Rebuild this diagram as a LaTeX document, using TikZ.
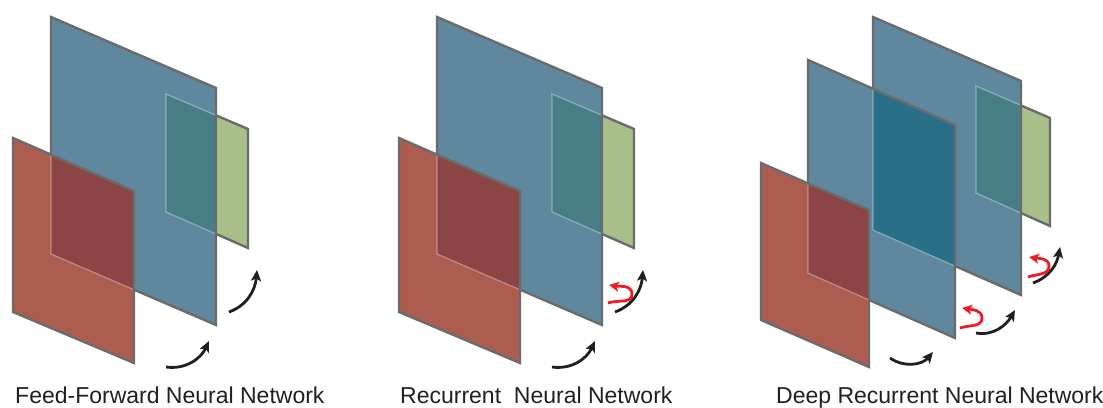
\documentclass[tikz,border=0pt]{standalone}
\usepackage{fontspec}
\setmainfont{Liberation Sans}
\usetikzlibrary{arrows.meta}
\definecolor{pblue}{HTML}{5F889F}
\definecolor{pred}{HTML}{AD5D50}
\definecolor{pgreen}{HTML}{A8BF8A}
\definecolor{rbov}{HTML}{8B4545}
\definecolor{bgov}{HTML}{477D85}
\definecolor{bbov}{HTML}{2A6F88}
\definecolor{edgegray}{HTML}{6B6B6B}
\definecolor{hookred}{HTML}{EE1C25}
\definecolor{ink}{HTML}{231F20}
\newcommand{\pl}[1]{(#1tl) -- (#1tr) -- (#1br) -- (#1bl) -- cycle}
\tikzset{
  planeedge/.style={draw=edgegray, line width=2.4pt, line join=miter},
  hiddenedge/.style={draw=white, draw opacity=0.35, line width=1.2pt},
  flow/.style={draw=ink, line width=2.8pt, -{Stealth[length=11pt,width=10pt,inset=2.5pt]}},
  recur/.style={draw=hookred, line width=2.8pt, -{Stealth[length=10pt,width=10pt,inset=2.5pt]}},
  caption/.style={font=\fontsize{23}{26}\selectfont, anchor=base west, inner sep=0pt, text=ink}
}
\begin{document}
\begin{tikzpicture}[x=1pt,y=1pt]
\useasboundingbox (0,0) rectangle (1103,407);
% ---------- panel coordinates ----------
% panel 1
\coordinate (b1tl) at (51,390);  \coordinate (b1tr) at (216,319); \coordinate (b1br) at (216,82);  \coordinate (b1bl) at (51,153);
\coordinate (r1tl) at (13,269);  \coordinate (r1tr) at (134,216); \coordinate (r1br) at (134,44);  \coordinate (r1bl) at (13,95);
\coordinate (g1tl) at (166,313); \coordinate (g1tr) at (248,278); \coordinate (g1br) at (248,159); \coordinate (g1bl) at (166,195);
% panel 2
\coordinate (b2tl) at (437,390); \coordinate (b2tr) at (602,319); \coordinate (b2br) at (602,82);  \coordinate (b2bl) at (437,153);
\coordinate (r2tl) at (399,269); \coordinate (r2tr) at (520,216); \coordinate (r2br) at (520,44);  \coordinate (r2bl) at (399,95);
\coordinate (g2tl) at (552,313); \coordinate (g2tr) at (634,278); \coordinate (g2br) at (634,159); \coordinate (g2bl) at (552,195);
% panel 3
\coordinate (bbtl) at (873,390); \coordinate (bbtr) at (1021,326); \coordinate (bbbr) at (1021,112); \coordinate (bbbl) at (873,177);
\coordinate (fbtl) at (808,347); \coordinate (fbtr) at (955,282);  \coordinate (fbbr) at (955,69);   \coordinate (fbbl) at (808,134);
\coordinate (r3tl) at (761,244); \coordinate (r3tr) at (869,197);  \coordinate (r3br) at (869,40);   \coordinate (r3bl) at (761,87);
\coordinate (g3tl) at (976,321); \coordinate (g3tr) at (1050,289); \coordinate (g3br) at (1050,181); \coordinate (g3bl) at (976,214);

% ---------- panel 1 planes ----------
\fill[pgreen] \pl{g1}; \draw[planeedge] \pl{g1};
\fill[pblue] \pl{b1};
\begin{scope} \clip \pl{b1}; \fill[bgov] \pl{g1}; \draw[hiddenedge] \pl{g1}; \end{scope}
\draw[planeedge] \pl{b1};
\fill[pred] \pl{r1};
\begin{scope} \clip \pl{r1}; \fill[rbov] \pl{b1}; \draw[hiddenedge] \pl{b1}; \end{scope}
\draw[planeedge] \pl{r1};

% ---------- panel 2 planes ----------
\fill[pgreen] \pl{g2}; \draw[planeedge] \pl{g2};
\fill[pblue] \pl{b2};
\begin{scope} \clip \pl{b2}; \fill[bgov] \pl{g2}; \draw[hiddenedge] \pl{g2}; \end{scope}
\draw[planeedge] \pl{b2};
\fill[pred] \pl{r2};
\begin{scope} \clip \pl{r2}; \fill[rbov] \pl{b2}; \draw[hiddenedge] \pl{b2}; \end{scope}
\draw[planeedge] \pl{r2};

% ---------- panel 3 planes ----------
\fill[pgreen] \pl{g3}; \draw[planeedge] \pl{g3};
\fill[pblue] \pl{bb};
\begin{scope} \clip \pl{bb}; \fill[bgov] \pl{g3}; \draw[hiddenedge] \pl{g3}; \end{scope}
\draw[planeedge] \pl{bb};
\fill[pblue] \pl{fb};
\begin{scope} \clip \pl{fb}; \fill[bbov] \pl{bb}; \draw[hiddenedge] \pl{bb}; \end{scope}
\draw[planeedge] \pl{fb};
\fill[pred] \pl{r3};
\begin{scope} \clip \pl{r3}; \fill[rbov] \pl{fb}; \draw[hiddenedge] \pl{fb}; \end{scope}
\draw[planeedge] \pl{r3};

% ---------- arrows ----------
% panel 1
\coordinate (p1a) at (166,40);  \coordinate (p1b) at (209,66);
\coordinate (p1c) at (229,95);  \coordinate (p1d) at (257,137);
\draw[flow] (p1a) to[out=-8,in=-115] (p1b);
\draw[flow] (p1c) to[out=20,in=-95] (p1d);
% panel 2
\coordinate (p2a) at (552,40);  \coordinate (p2b) at (595,66);
\coordinate (p2c) at (615,95);  \coordinate (p2d) at (643,137);
\coordinate (h2s) at (608,104); \coordinate (h2m) at (632,113); \coordinate (h2e) at (609,122);
\draw[flow] (p2a) to[out=-8,in=-115] (p2b);
\draw[flow] (p2c) to[out=20,in=-95] (p2d);
\draw[recur] (h2s) to[out=20,in=-90] (h2m) to[out=90,in=-10] (h2e);
% panel 3
\coordinate (p3a) at (890,49);  \coordinate (p3b) at (933,55);
\coordinate (p3c) at (976,74);  \coordinate (p3d) at (1015,97);
\coordinate (p3e) at (1033,124); \coordinate (p3f) at (1060,160);
\coordinate (h3s) at (960,79);  \coordinate (h3m) at (982,89);  \coordinate (h3e) at (962,99);
\coordinate (h4s) at (1028,130); \coordinate (h4m) at (1049,141); \coordinate (h4e) at (1029,150);
\draw[flow] (p3a) to[out=-35,in=-130] (p3b);
\draw[flow] (p3c) to[out=-10,in=-120] (p3d);
\draw[flow] (p3e) to[out=20,in=-100] (p3f);
\draw[recur] (h3s) to[out=20,in=-90] (h3m) to[out=90,in=-10] (h3e);
\draw[recur] (h4s) to[out=20,in=-90] (h4m) to[out=90,in=-10] (h4e);

% ---------- captions ----------
\node[caption] (c1) at (15,4) {Feed-Forward Neural Network};
\node[caption] (c2) at (400,4) {Recurrent\ \ Neural Network};
\node[caption] (c3) at (776,4) {Deep Recurrent Neural Network};
\end{tikzpicture}
\end{document}
